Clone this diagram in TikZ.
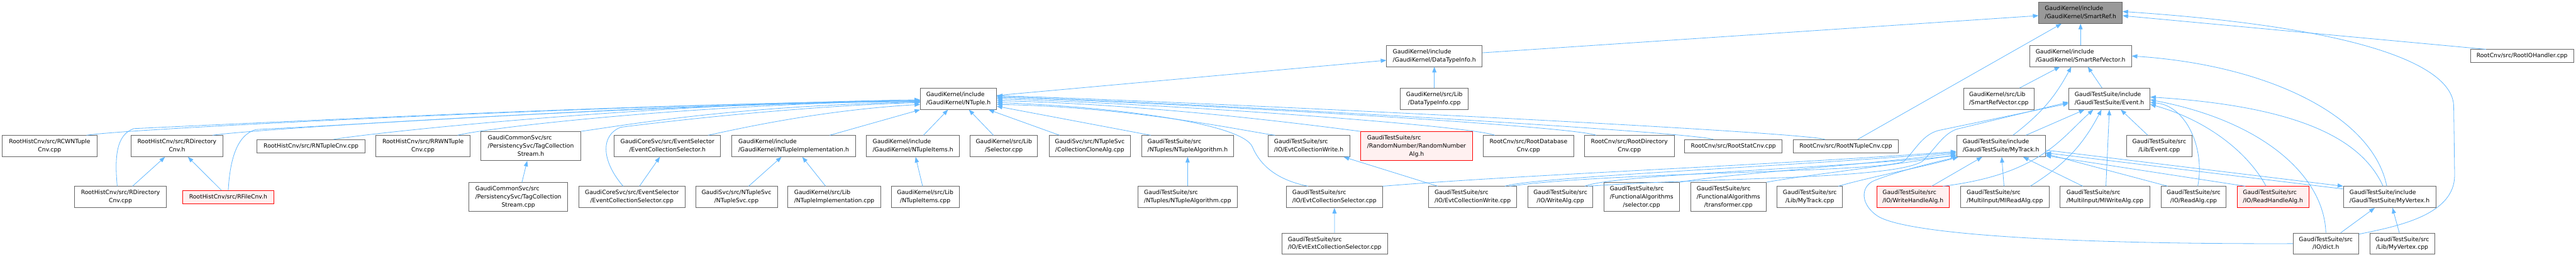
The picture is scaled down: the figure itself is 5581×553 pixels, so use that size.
\documentclass[tikz,border=0pt]{standalone}
\usepackage{fontspec}
\setmainfont{DejaVu Sans}
\usetikzlibrary{arrows.meta}
\definecolor{edgeblue}{HTML}{63B8FF}
\definecolor{boxgray}{HTML}{666666}
\definecolor{rootgray}{HTML}{999999}
\definecolor{redfill}{HTML}{FFF0F0}
\newcommand{\flab}[2]{\begin{tabular}{@{}l@{}}#1\\\multicolumn{1}{@{}c@{}}{#2}\end{tabular}}

\begin{document}
\begin{tikzpicture}[x=1pt, y=1pt, >={Triangle[length=12pt,width=9pt]},
  every node/.style={font=\fontsize{12.6}{17.5}\selectfont},
  filebox/.style={draw=boxgray, fill=white, line width=1.1pt, inner sep=0pt, minimum height=46pt},
  rootbox/.style={filebox, fill=rootgray},
  redbox/.style={filebox, draw=red, fill=redfill},
  one/.style={minimum height=28pt},
  three/.style={minimum height=63pt},
  incl/.style={->, draw=edgeblue, line width=1.1pt}]
  \useasboundingbox (0,0) rectangle (5581,-553);

  % row 0 to 2
  \node[rootbox, minimum width=181pt] (smartref) at (4507.5,-28) {\flab{GaudiKernel/include}{/GaudiKernel/SmartRef.h}};
  \node[filebox, minimum width=207pt] (dtinfoh) at (3107.5,-121.5) {\flab{GaudiKernel/include}{/GaudiKernel/DataTypeInfo.h}};
  \node[filebox, minimum width=221pt] (srvech) at (4507.5,-121.5) {\flab{GaudiKernel/include}{/GaudiKernel/SmartRefVector.h}};
  \node[filebox, one, minimum width=224pt] (rootioh) at (5464,-121.5) {RootCnv/src/RootIOHandler.cpp};
  \node[filebox, minimum width=165pt] (ntupleh) at (2076.5,-214.5) {\flab{GaudiKernel/include}{/GaudiKernel/NTuple.h}};
  \node[filebox, minimum width=147pt] (dtinfocpp) at (3107.5,-214.5) {\flab{GaudiKernel/src/Lib}{/DataTypeInfo.cpp}};
  \node[filebox, minimum width=153pt] (srveccpp) at (4330.5,-214.5) {\flab{GaudiKernel/src/Lib}{/SmartRefVector.cpp}};
  \node[filebox, minimum width=176pt] (eventh) at (4570,-214.5) {\flab{GaudiTestSuite/include}{/GaudiTestSuite/Event.h}};

  % row 3
  \node[filebox, minimum width=205pt] (rcwntcnv) at (107.5,-317) {\flab{RootHistCnv/src/RCWNTuple}{Cnv.cpp}};
  \node[filebox, minimum width=199pt] (rdirh) at (383.5,-317) {\flab{RootHistCnv/src/RDirectory}{Cnv.h}};
  \node[filebox, one, minimum width=234pt] (rntcnvcpp) at (674,-317) {RootHistCnv/src/RNTupleCnv.cpp};
  \node[filebox, minimum width=205pt] (rrwntcnv) at (916.5,-317) {\flab{RootHistCnv/src/RRWNTuple}{Cnv.cpp}};
  \node[filebox, three, minimum width=216pt] (tagh) at (1150,-317) {\flab{GaudiCommonSvc/src\\/PersistencySvc/TagCollection}{Stream.h}};
  \node[filebox, minimum width=230pt] (ecselh) at (1446,-317) {\flab{GaudiCoreSvc/src/EventSelector}{/EventCollectionSelector.h}};
  \node[filebox, minimum width=269pt] (ntimplh) at (1719.5,-317) {\flab{GaudiKernel/include}{/GaudiKernel/NTupleImplementation.h}};
  \node[filebox, minimum width=202pt] (ntitemsh) at (1978,-317) {\flab{GaudiKernel/include}{/GaudiKernel/NTupleItems.h}};
  \node[filebox, minimum width=146pt] (selcpp) at (2175,-317) {\flab{GaudiKernel/src/Lib}{/Selector.cpp}};
  \node[filebox, minimum width=176pt] (ccalg) at (2361,-317) {\flab{GaudiSvc/src/NTupleSvc}{/CollectionCloneAlg.cpp}};
  \node[filebox, minimum width=200pt] (ntalgh) at (2573,-317) {\flab{GaudiTestSuite/src}{/NTuples/NTupleAlgorithm.h}};
  \node[filebox, minimum width=177pt] (ecwh) at (2835.5,-317) {\flab{GaudiTestSuite/src}{/IO/EvtCollectionWrite.h}};
  \node[redbox, three, minimum width=242pt] (rndalg) at (3069,-317) {\flab{GaudiTestSuite/src\\/RandomNumber/RandomNumber}{Alg.h}};
  \node[filebox, minimum width=195pt] (rdbcnv) at (3311.5,-317) {\flab{RootCnv/src/RootDatabase}{Cnv.cpp}};
  \node[filebox, minimum width=194pt] (rdircnv) at (3530,-317) {\flab{RootCnv/src/RootDirectory}{Cnv.cpp}};
  \node[filebox, one, minimum width=211pt] (rstatcnv) at (3755.5,-317) {RootCnv/src/RootStatCnv.cpp};
  \node[filebox, one, minimum width=228pt] (rntcnv) at (3999,-317) {RootCnv/src/RootNTupleCnv.cpp};
  \node[filebox, minimum width=192pt] (mytrackh) at (4335,-317) {\flab{GaudiTestSuite/include}{/GaudiTestSuite/MyTrack.h}};
  \node[filebox, minimum width=142pt] (eventcpp) at (4678,-317) {\flab{GaudiTestSuite/src}{/Lib/Event.cpp}};

  % row 4
  \node[filebox, minimum width=198pt] (rdircpp) at (261,-427.5) {\flab{RootHistCnv/src/RDirectory}{Cnv.cpp}};
  \node[redbox, one, minimum width=197pt] (rfileh) at (494.5,-427.5) {RootHistCnv/src/RFileCnv.h};
  \node[filebox, three, minimum width=214pt] (tagcpp) at (1123,-427.5) {\flab{GaudiCommonSvc/src\\/PersistencySvc/TagCollection}{Stream.cpp}};
  \node[filebox, minimum width=230pt] (ecselcpp) at (1369,-427.5) {\flab{GaudiCoreSvc/src/EventSelector}{/EventCollectionSelector.cpp}};
  \node[filebox, minimum width=177pt] (ntsvccpp) at (1595.5,-427.5) {\flab{GaudiSvc/src/NTupleSvc}{/NTupleSvc.cpp}};
  \node[filebox, minimum width=201pt] (ntimplcpp) at (1807.5,-427.5) {\flab{GaudiKernel/src/Lib}{/NTupleImplementation.cpp}};
  \node[filebox, minimum width=147pt] (ntitemscpp) at (2004.5,-427.5) {\flab{GaudiKernel/src/Lib}{/NTupleItems.cpp}};
  \node[filebox, minimum width=216pt] (ntalgcpp) at (2573,-427.5) {\flab{GaudiTestSuite/src}{/NTuples/NTupleAlgorithm.cpp}};
  \node[filebox, minimum width=208pt] (evtcolsel) at (2891,-427.5) {\flab{GaudiTestSuite/src}{/IO/EvtCollectionSelector.cpp}};
  \node[filebox, minimum width=191pt] (evtcolwr) at (3190.5,-427.5) {\flab{GaudiTestSuite/src}{/IO/EvtCollectionWrite.cpp}};
  \node[filebox, minimum width=141pt] (writealg) at (3380.5,-427.5) {\flab{GaudiTestSuite/src}{/IO/WriteAlg.cpp}};
  \node[filebox, three, minimum width=163pt] (fselcpp) at (3556.5,-427.5) {\flab{GaudiTestSuite/src\\/FunctionalAlgorithms}{/selector.cpp}};
  \node[filebox, three, minimum width=163pt] (ftranscpp) at (3744.5,-427.5) {\flab{GaudiTestSuite/src\\/FunctionalAlgorithms}{/transformer.cpp}};
  \node[filebox, minimum width=142pt] (mytrackcpp) at (3921,-427.5) {\flab{GaudiTestSuite/src}{/Lib/MyTrack.cpp}};
  \node[redbox, minimum width=157pt] (whandleh) at (4144.5,-427.5) {\flab{GaudiTestSuite/src}{/IO/WriteHandleAlg.h}};
  \node[filebox, minimum width=193pt] (mireadcpp) at (4343.5,-427.5) {\flab{GaudiTestSuite/src}{/MultiInput/MIReadAlg.cpp}};
  \node[filebox, minimum width=195pt] (miwritecpp) at (4560.5,-427.5) {\flab{GaudiTestSuite/src}{/MultiInput/MIWriteAlg.cpp}};
  \node[filebox, minimum width=141pt] (readalg) at (4752.5,-427.5) {\flab{GaudiTestSuite/src}{/IO/ReadAlg.cpp}};
  \node[redbox, minimum width=155pt] (rhandleh) at (4924.5,-427.5) {\flab{GaudiTestSuite/src}{/IO/ReadHandleAlg.h}};
  \node[filebox, minimum width=200pt] (myvertexh) at (5177,-427.5) {\flab{GaudiTestSuite/include}{/GaudiTestSuite/MyVertex.h}};

  % row 5
  \node[filebox, minimum width=229pt] (evtextsel) at (2891.5,-528.5) {\flab{GaudiTestSuite/src}{/IO/EvtExtCollectionSelector.cpp}};
  \node[filebox, minimum width=142pt] (dicth) at (5039,-528.5) {\flab{GaudiTestSuite/src}{/IO/dict.h}};
  \node[filebox, minimum width=141pt] (myvertexcpp) at (5204.5,-528.5) {\flab{GaudiTestSuite/src}{/Lib/MyVertex.cpp}};

  % into NTuple.h
  \draw[incl] ([xshift=80pt]rcwntcnv.north) .. controls +(100,16) and +(-600,-8) .. ([yshift=-3pt]ntupleh.west);
  \draw[incl] ([xshift=-7pt]rdircpp.north) .. controls (248,-340) and (252,-292) .. (290,-279) .. controls (800,-255) and (1500,-222) .. ([yshift=-5pt]ntupleh.west);
  \draw[incl] ([xshift=77pt]rdirh.north) .. controls +(90,14) and +(-600,-8) .. ([yshift=-5pt]ntupleh.west);
  \draw[incl] (rfileh.north) .. controls (498,-350) and (512,-292) .. (555,-281) .. controls (1000,-258) and (1500,-222) .. ([yshift=-6pt]ntupleh.west);
  \draw[incl] ([xshift=48pt]rntcnvcpp.north) .. controls +(80,14) and +(-600,-8) .. ([yshift=-2pt]ntupleh.west);
  \draw[incl] ([xshift=75pt]rrwntcnv.north) .. controls +(60,16) and +(-500,-8) .. ([yshift=-4pt]ntupleh.west);
  \draw[incl] (tagh.north east) .. controls +(100,14) and +(-400,-8) .. ([yshift=-7pt]ntupleh.west);
  \draw[incl] ([xshift=-19pt]ecselcpp.north) .. controls (1300,-345) and (1303,-292) .. (1345,-276) .. controls (1550,-250) and (1800,-228) .. ([yshift=-8pt]ntupleh.west);
  \draw[incl] ([xshift=88pt]ecselh.north) .. controls +(100,22) and +(-200,-12) .. ([yshift=-12pt]ntupleh.west);
  \draw[incl] ([xshift=78pt]ntimplh.north) -- (ntupleh.south west);
  \draw[incl] (ntitemsh) -- (ntupleh);
  \draw[incl] (selcpp) -- (ntupleh);
  \draw[incl] (ccalg) -- (ntupleh);
  \draw[incl] ([xshift=-80pt]ntalgh.north) -- ([yshift=-16pt]ntupleh.east);
  \draw[incl] ([xshift=-57pt]evtcolsel.north) .. controls (2765,-390) and (2730,-358) .. (2713,-318) .. controls (2690,-268) and (2420,-232) .. ([yshift=-8pt]ntupleh.east);
  \draw[incl] ([xshift=-73pt]ecwh.north) .. controls +(-60,8) and +(300,-6) .. ([yshift=-12pt]ntupleh.east);
  \draw[incl] (rndalg.north west) .. controls +(-80,10) and +(350,-8) .. ([yshift=-4pt]ntupleh.east);
  \draw[incl] ([xshift=-73pt]rdbcnv.north) .. controls +(-50,20) and +(400,-12) .. (ntupleh.east);
  \draw[incl] ([xshift=-72pt]rdircnv.north) .. controls +(-50,20) and +(400,-12) .. ([yshift=3pt]ntupleh.east);
  \draw[incl] ([xshift=-43pt]rstatcnv.north) .. controls +(-60,18) and +(400,-12) .. ([yshift=5pt]ntupleh.east);
  \draw[incl] ([xshift=-45pt]rntcnv.north) .. controls +(-60,18) and +(400,-12) .. ([yshift=7pt]ntupleh.east);

  % into DataTypeInfo.h and SmartRef.h
  \draw[incl] (ntupleh) -- (dtinfoh);
  \draw[incl] (dtinfocpp) -- (dtinfoh);
  \draw[incl] (dtinfoh) -- (smartref);
  \draw[incl] (rntcnv) -- (smartref);
  \draw[incl] (srvech) -- (smartref);
  \draw[incl] ([xshift=-78pt]rootioh.north) -- ([yshift=-6pt]smartref.east);
  \draw[incl] ([yshift=-3pt]dicth.north east) .. controls (5200,-490) and (5318,-465) .. (5318,-380) -- (5316,-230) .. controls (5314,-150) and (5150,-62) .. ([yshift=3pt]smartref.east);

  % into SmartRefVector.h
  \draw[incl] (srveccpp) -- (srvech);
  \draw[incl] (eventh) -- (srvech);
  \draw[incl] ([xshift=26pt]mytrackh.north) to[bend right=12] ([xshift=-20pt]srvech.south);
  \draw[incl] ([xshift=-6pt]myvertexh.north) .. controls +(-30,150) and +(300,-20) .. (srvech.east);

  % into Event.h
  \draw[incl] (eventcpp) -- (eventh);
  \draw[incl] (mytrackh) -- (eventh);
  \draw[incl] ([xshift=55pt]mireadcpp.north) to[bend right=15] ([xshift=-17pt]eventh.south);
  \draw[incl] ([xshift=2pt]miwritecpp.north) -- (eventh.south);
  \draw[incl] ([xshift=65pt]whandleh.north) .. controls (4420,-378) and (4465,-300) .. ([xshift=-35pt]eventh.south);
  \draw[incl] ([xshift=9pt]readalg.north) .. controls (4778,-320) and (4735,-228) .. ([yshift=-8pt]eventh.east);
  \draw[incl] ([xshift=-14pt]myvertexh.north) .. controls (5120,-310) and (5000,-232) .. ([yshift=4pt]eventh.east);
  \draw[incl] (dicth.north) .. controls (5035,-380) and (4900,-262) .. ([yshift=-2pt]eventh.east);
  \draw[incl] ([xshift=-15pt]rhandleh.north) .. controls (4870,-330) and (4780,-260) .. ([yshift=-12pt]eventh.east);
  \draw[incl] ([xshift=80pt]evtcolwr.north) .. controls (3500,-372) and (4070,-375) .. (4125,-350) .. controls (4150,-325) and (4165,-292) .. (4200,-283) -- ([yshift=-10pt]eventh.west);
  \draw[incl] ([xshift=60pt]writealg.north) .. controls (3700,-385) and (4100,-390) .. (4165,-350) .. controls (4195,-320) and (4210,-290) .. (4240,-280) -- ([yshift=-7pt]eventh.west);

  % into MyTrack.h
  \draw[incl] (whandleh) -- (mytrackh);
  \draw[incl] (mireadcpp) -- (mytrackh);
  \draw[incl] (miwritecpp) -- (mytrackh);
  \draw[incl] ([xshift=-56pt]readalg.north) -- ([yshift=7pt]mytrackh.south east);
  \draw[incl] ([xshift=-60pt]rhandleh.north) -- ([yshift=3pt]mytrackh.south east);
  \draw[incl] ([yshift=-6pt]myvertexh.north west) -- ([yshift=9pt]mytrackh.south east);
  \draw[incl] ([xshift=62pt]mytrackcpp.north) .. controls +(60,18) and +(-60,-18) .. ([xshift=4pt]mytrackh.south west);
  \draw[incl] (ftranscpp.north east) .. controls +(80,15) and +(-150,-25) .. ([yshift=5pt]mytrackh.south west);
  \draw[incl] (fselcpp.north east) .. controls +(100,18) and +(-250,-30) .. ([yshift=8pt]mytrackh.south west);
  \draw[incl] ([xshift=53pt]writealg.north) .. controls +(60,25) and +(-300,-30) .. ([yshift=3pt]mytrackh.south west);
  \draw[incl] ([xshift=70pt]evtcolwr.north) .. controls +(60,20) and +(-350,-30) .. ([yshift=10pt]mytrackh.south west);
  \draw[incl] (evtcolsel.north east) .. controls +(300,25) and +(-400,-30) .. ([yshift=12pt]mytrackh.south west);
  \draw[incl] (dicth.west) .. controls (4500,-530) and (4140,-510) .. (4070,-470) .. controls (4030,-445) and (4030,-405) .. (4060,-392) .. controls (4110,-372) and (4190,-352) .. ([xshift=4pt]mytrackh.south west);

  % into MyVertex.h
  \draw[incl] ([yshift=15pt]mytrackh.south east) -- (myvertexh.north west);
  \draw[incl] (dicth) -- (myvertexh);
  \draw[incl] (myvertexcpp) -- (myvertexh);

  % short edges
  \draw[incl] (rdircpp) -- (rdirh);
  \draw[incl] (rfileh) -- (rdirh);
  \draw[incl] (tagcpp) -- (tagh);
  \draw[incl] (ecselcpp) -- (ecselh);
  \draw[incl] (ntsvccpp) -- (ntimplh);
  \draw[incl] (ntimplcpp) -- (ntimplh);
  \draw[incl] (ntitemscpp) -- (ntitemsh);
  \draw[incl] (ntalgcpp) -- (ntalgh);
  \draw[incl] (evtcolwr) -- (ecwh);
  \draw[incl] (evtextsel) -- (evtcolsel);
\end{tikzpicture}
\end{document}
